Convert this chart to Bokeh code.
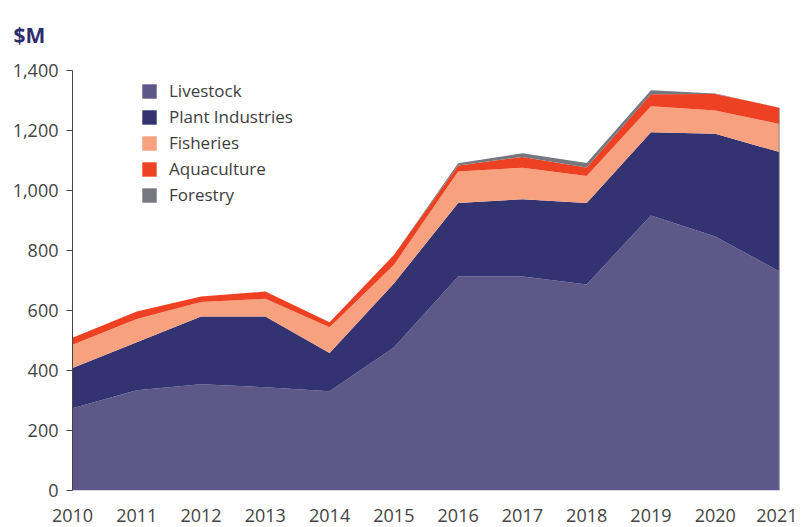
from bokeh.plotting import figure
from bokeh.models import ColumnDataSource, NumeralTickFormatter, FixedTicker, Legend
from bokeh.embed import file_html
from bokeh.resources import INLINE

years = [2010, 2011, 2012, 2013, 2014, 2015, 2016, 2017, 2018, 2019, 2020, 2021]
livestock = [274, 334, 354, 344, 331, 477, 713, 713, 687, 917, 847, 730]
plant = [134, 160, 226, 236, 127, 213, 245, 258, 271, 277, 342, 398]
fisheries = [78, 78, 48, 59, 86, 62, 105, 105, 90, 87, 78, 94]
aquaculture = [23, 25, 19, 24, 17, 33, 20, 36, 29, 40, 55, 54]
forestry = [0, 0, 0, 0, 0, 0, 8, 12, 15, 13, 1, 0]
y_ticks = [0, 200, 400, 600, 800, 1000, 1200, 1400]

series = ["Livestock", "Plant Industries", "Fisheries", "Aquaculture", "Forestry"]
colors = ["#5e5889", "#343372", "#f7a17e", "#ee4123", "#76777f"]

src = ColumnDataSource(dict(year=years, Livestock=livestock, **{"Plant Industries": plant},
                            Fisheries=fisheries, Aquaculture=aquaculture, Forestry=forestry))

FONT = "Open Sans"

p = figure(width=797, height=527, x_range=(2010, 2021), y_range=(0, 1400),
           output_backend="svg", toolbar_location=None,
           title="$M",
           min_border_left=72, min_border_right=18, min_border_top=70, min_border_bottom=37)
p.outline_line_color = None
p.grid.grid_line_color = None

p.title.align = "left"
p.title.vertical_align = "top"
p.title.offset = -59
p.title.standoff = 40
p.title.text_font = FONT
p.title.text_font_size = "21px"
p.title.text_font_style = "bold"
p.title.text_color = "#2f2d6e"

rs = p.varea_stack(stackers=series, x="year", color=colors, source=src)

# right edge line at last year
total_last = livestock[-1] + plant[-1] + fisheries[-1] + aquaculture[-1] + forestry[-1]
p.segment(x0=[years[-1]], y0=[0], x1=[years[-1]], y1=[total_last], line_color="#76777f", line_width=1.5)

legend = Legend(items=[(s, [r]) for s, r in zip(series, rs)], location=(68, 284),
                background_fill_alpha=0, border_line_color=None, padding=0, margin=0,
                spacing=3, glyph_width=18, glyph_height=18, label_height=18,
                label_text_font=FONT, label_text_font_size="17px", label_text_color="#3d3d3d",
                label_standoff=11)
p.add_layout(legend, "center")

for ax in (p.xaxis[0], p.yaxis[0]):
    ax.major_label_text_font = FONT
    ax.major_label_text_font_size = "18px"
    ax.major_label_text_color = "#444444"
    ax.axis_line_color = "#444444"
    ax.minor_tick_line_color = None

p.xaxis.ticker = FixedTicker(ticks=years)
p.xaxis.major_tick_line_color = None
p.xaxis.major_label_standoff = 12
p.xaxis.axis_line_color = None

p.yaxis.ticker = FixedTicker(ticks=y_ticks)
p.yaxis.formatter = NumeralTickFormatter(format="0,0")
p.yaxis.major_tick_out = 6
p.yaxis.major_tick_in = 0
p.yaxis.major_tick_line_color = "#444444"
p.yaxis.major_label_standoff = 8

open("out.html", "w").write(file_html(p, INLINE))
